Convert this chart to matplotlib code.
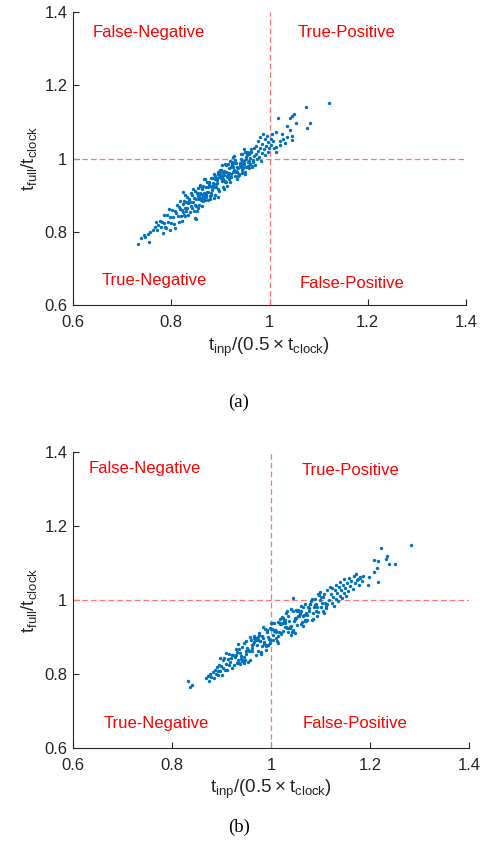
import matplotlib
matplotlib.use("Agg")
import matplotlib.pyplot as plt

plt.rcParams['font.family'] = ['Liberation Sans', 'DejaVu Sans']
plt.rcParams['mathtext.default'] = 'regular'

# (a): t_full/t_clock against t_inp/(0.5 t_clock)
x_a = [0.733, 0.739, 0.744, 0.747, 0.752, 0.755, 0.757, 0.763, 0.766, 0.769, 0.771, 0.774, 0.777, 0.779,
       0.781, 0.783, 0.785, 0.786, 0.788, 0.790, 0.792, 0.793, 0.795, 0.797, 0.798, 0.800, 0.802, 0.803,
       0.805, 0.807, 0.808, 0.810, 0.812, 0.813, 0.815, 0.817, 0.818, 0.820,
       0.821, 0.822, 0.823, 0.824, 0.825, 0.826, 0.827, 0.828, 0.829, 0.830, 0.831, 0.832, 0.833, 0.834,
       0.835, 0.836, 0.837, 0.838, 0.839, 0.840, 0.841, 0.842, 0.843, 0.844, 0.845, 0.846, 0.847, 0.848,
       0.849, 0.850, 0.851, 0.815, 0.823, 0.848, 0.896,
       0.851, 0.852, 0.853, 0.854, 0.855, 0.856, 0.857, 0.858, 0.859, 0.860, 0.861, 0.862, 0.863, 0.864,
       0.865, 0.866, 0.867, 0.868, 0.869, 0.870, 0.871, 0.872, 0.873, 0.874, 0.875, 0.876, 0.877, 0.878,
       0.879, 0.880,
       0.8515, 0.8535, 0.8555, 0.8575, 0.8595, 0.8615, 0.8635, 0.8655, 0.8675, 0.8695, 0.8715, 0.8735,
       0.8755, 0.8775, 0.8795,
       0.881, 0.882, 0.883, 0.884, 0.885, 0.886, 0.887, 0.888, 0.889, 0.890, 0.891, 0.892, 0.893, 0.894,
       0.895, 0.896, 0.897, 0.898, 0.899, 0.900, 0.901, 0.902, 0.903, 0.904, 0.905, 0.906, 0.907, 0.908,
       0.909, 0.910,
       0.8815, 0.8835, 0.8855, 0.8875, 0.8895, 0.8915, 0.8935, 0.8955, 0.8975, 0.8995, 0.9015, 0.9035,
       0.9055, 0.9075, 0.9095,
       0.911, 0.912, 0.913, 0.914, 0.915, 0.916, 0.917, 0.918, 0.919, 0.920, 0.921, 0.922, 0.923, 0.924,
       0.925, 0.926, 0.927, 0.928, 0.929, 0.930, 0.931, 0.932, 0.933, 0.934, 0.935, 0.936, 0.937, 0.938,
       0.939, 0.940,
       0.9115, 0.9135, 0.9155, 0.9175, 0.9195, 0.9215, 0.9235, 0.9255, 0.9275, 0.9295, 0.9315, 0.9335,
       0.941, 0.942, 0.943, 0.944, 0.945, 0.946, 0.947, 0.948, 0.949, 0.950, 0.951, 0.952, 0.953, 0.954,
       0.955, 0.956, 0.957, 0.958, 0.959, 0.960, 0.961, 0.962, 0.963, 0.964, 0.965, 0.966,
       0.9425, 0.9445, 0.9465, 0.9485, 0.9505, 0.9525, 0.9545, 0.9565, 0.9585, 0.9605,
       0.967, 0.968, 0.969, 0.971, 0.972, 0.973, 0.975, 0.976, 0.977, 0.979, 0.980, 0.981, 0.983, 0.984,
       0.985, 0.987, 0.988, 0.990, 0.991, 0.993, 0.994, 0.996, 0.997, 0.999,
       1.002, 1.004, 1.006, 1.008, 1.010, 1.013, 1.013, 1.014, 1.018, 1.021, 1.025, 1.028, 1.032, 1.036,
       1.041, 1.042, 1.045, 1.045, 1.046, 1.050, 1.054, 1.074, 1.076, 1.083, 1.121, 1.035, 1.022]
y_a = [0.766, 0.782, 0.790, 0.787, 0.795, 0.773, 0.799, 0.804, 0.813, 0.826, 0.806, 0.819, 0.830, 0.812,
       0.827, 0.796, 0.823, 0.847, 0.813, 0.809, 0.845, 0.826, 0.863, 0.805, 0.841, 0.823, 0.860, 0.839,
       0.821, 0.858, 0.810, 0.852, 0.874, 0.844, 0.827, 0.863, 0.884, 0.843,
       0.860, 0.829, 0.877, 0.854, 0.883, 0.846, 0.900, 0.864, 0.844, 0.880, 0.858, 0.894, 0.866, 0.878,
       0.845, 0.890, 0.887, 0.855, 0.881, 0.905, 0.870, 0.865, 0.900, 0.880, 0.916, 0.857, 0.893, 0.874,
       0.910, 0.890, 0.836, 0.868, 0.908, 0.837, 0.894,
       0.871, 0.906, 0.858, 0.899, 0.920, 0.890, 0.872, 0.907, 0.928, 0.886, 0.902, 0.871, 0.919, 0.897,
       0.926, 0.889, 0.943, 0.907, 0.887, 0.923, 0.901, 0.937, 0.909, 0.921, 0.887, 0.932, 0.929, 0.898,
       0.924, 0.948,
       0.906, 0.864, 0.901, 0.893, 0.924, 0.891, 0.916, 0.883, 0.906, 0.945, 0.895, 0.935, 0.909, 0.935,
       0.890,
       0.901, 0.914, 0.922, 0.933, 0.927, 0.893, 0.923, 0.959, 0.900, 0.952, 0.931, 0.923, 0.942, 0.948,
       0.964, 0.957, 0.912, 0.963, 0.956, 0.968, 0.953, 0.946, 0.938, 0.982, 0.960, 0.944, 0.966, 0.955,
       0.937, 0.986,
       0.907, 0.947, 0.922, 0.946, 0.944, 0.945, 0.933, 0.918, 0.949, 0.963, 0.969, 0.950, 0.921, 0.916,
       0.939,
       0.981, 0.936, 0.926, 0.953, 0.956, 0.985, 0.943, 0.973, 0.950, 0.993, 0.978, 0.957, 0.982, 0.985,
       0.976, 1.003, 0.968, 1.008, 0.952, 0.997, 0.962, 0.966, 0.962, 0.944, 0.973, 0.953, 0.955, 0.959,
       0.983, 0.989,
       0.962, 0.949, 0.961, 0.960, 0.935, 0.950, 0.990, 0.964, 0.988, 0.987, 0.988, 0.976,
       1.000, 0.977, 0.961, 0.969, 1.011, 0.985, 0.978, 0.994, 1.025, 1.018, 0.958, 0.976, 0.998, 1.010,
       1.017, 0.976, 0.979, 0.992, 1.012, 1.002, 1.019, 1.019, 1.027, 0.976, 0.979, 0.996,
       1.013, 0.992, 0.974, 0.984, 0.964, 1.003, 1.011, 0.990, 0.975, 0.984,
       0.990, 1.028, 1.006, 0.983, 1.035, 1.012, 0.998, 1.047, 1.021, 1.004, 1.058, 1.030, 0.992, 1.016,
       1.041, 1.068, 1.025, 1.009, 1.052, 1.035, 1.061, 1.018, 1.044, 1.028,
       1.052, 1.038, 1.066, 1.047, 1.029, 1.032, 1.017, 1.072, 1.110, 1.037, 1.066, 1.052, 1.043, 1.090,
       1.078, 1.110, 1.062, 1.050, 1.117, 1.121, 1.098, 1.141, 1.084, 1.098, 1.151, 1.058, 1.048]

# (b): same circuits, different input normalisation
x_b = [0.833, 0.837, 0.840, 0.869, 0.872, 0.874, 0.877, 0.879, 0.882, 0.884, 0.886, 0.889, 0.890, 0.892,
       0.894, 0.895, 0.897, 0.898, 0.900, 0.901, 0.903, 0.904, 0.906, 0.907, 0.909, 0.910, 0.912, 0.913,
       0.915, 0.916, 0.918, 0.919, 0.921, 0.922, 0.924, 0.925, 0.927, 0.929,
       0.930, 0.931, 0.933, 0.934, 0.935, 0.937, 0.938, 0.939, 0.941, 0.942, 0.943, 0.945, 0.946, 0.947,
       0.949, 0.950, 0.951, 0.953, 0.954, 0.955, 0.957, 0.958, 0.959, 0.961, 0.962, 0.963, 0.965, 0.966,
       0.967, 0.969,
       0.9305, 0.9345, 0.9385, 0.9425, 0.9465, 0.9505, 0.9545, 0.9585, 0.9625, 0.9665,
       0.970, 0.971, 0.973, 0.974, 0.975, 0.976, 0.978, 0.979, 0.980, 0.981, 0.983, 0.984, 0.985, 0.986,
       0.988, 0.989, 0.990, 0.991, 0.993, 0.994, 0.995, 0.996, 0.998, 0.999, 1.000, 1.001, 1.003, 1.004,
       1.005, 1.006, 1.008, 1.009, 1.010, 1.011, 1.013, 1.014, 1.015, 1.016, 1.018, 1.019,
       0.9705, 0.9745, 0.9785, 0.9825, 0.9865, 0.9905, 0.9945, 0.9985, 1.0025, 1.0065, 1.0105, 1.0145,
       1.0185,
       1.020, 1.021, 1.023, 1.024, 1.025, 1.026, 1.028, 1.029, 1.030, 1.031, 1.033, 1.034, 1.035, 1.036,
       1.038, 1.039, 1.040, 1.041, 1.043, 1.044, 1.045, 1.046, 1.048, 1.049, 1.050, 1.051, 1.053, 1.054,
       1.055, 1.056, 1.058, 1.059, 1.060, 1.061, 1.063, 1.064, 1.065, 1.066, 1.068, 1.069,
       1.0205, 1.0245, 1.0285, 1.0325, 1.0365, 1.0405, 1.0445, 1.0485, 1.0525, 1.0565, 1.0605, 1.0645,
       1.0685, 1.044,
       1.070, 1.072, 1.073, 1.075, 1.076, 1.078, 1.079, 1.081, 1.082, 1.084, 1.085, 1.087, 1.088, 1.090,
       1.091, 1.093, 1.094, 1.096, 1.097, 1.099, 1.100, 1.102, 1.103, 1.105, 1.106, 1.108, 1.109, 1.111,
       1.112, 1.114,
       1.071, 1.077, 1.083, 1.089, 1.095, 1.101, 1.107, 1.113, 1.117, 1.119,
       1.121, 1.123, 1.124, 1.126, 1.127, 1.129, 1.131, 1.132, 1.134, 1.135, 1.137, 1.139, 1.140, 1.142,
       1.143, 1.145, 1.147, 1.148, 1.150, 1.152, 1.154, 1.156, 1.158, 1.160, 1.162, 1.165, 1.167, 1.170,
       1.172, 1.174, 1.177, 1.180, 1.183, 1.186,
       1.283, 1.222, 1.234, 1.232, 1.209, 1.217, 1.214, 1.239, 1.251, 1.209, 1.216, 1.198, 1.180, 1.175,
       1.197]
y_b = [0.781, 0.766, 0.771, 0.788, 0.795, 0.781, 0.800, 0.792, 0.806, 0.789, 0.812, 0.801, 0.820, 0.808,
       0.796, 0.824, 0.842, 0.808, 0.822, 0.797, 0.837, 0.817, 0.842, 0.812, 0.857, 0.828, 0.812, 0.841,
       0.825, 0.854, 0.832, 0.842, 0.816, 0.852, 0.850, 0.824, 0.846, 0.867,
       0.850, 0.831, 0.881, 0.837, 0.831, 0.858, 0.828, 0.840, 0.872, 0.839, 0.835, 0.883, 0.831, 0.839,
       0.853, 0.861, 0.871, 0.866, 0.832, 0.862, 0.899, 0.839, 0.891, 0.871, 0.863, 0.881, 0.887, 0.903,
       0.895, 0.852,
       0.859, 0.868, 0.848, 0.834, 0.845, 0.889, 0.865, 0.861, 0.879, 0.896,
       0.892, 0.878, 0.863, 0.893, 0.905, 0.910, 0.890, 0.860, 0.854, 0.876, 0.927, 0.898, 0.883, 0.881,
       0.921, 0.866, 0.875, 0.913, 0.918, 0.901, 0.877, 0.895, 0.893, 0.883, 0.938, 0.921, 0.938, 0.891,
       0.905, 0.937, 0.920, 0.919, 0.916, 0.913, 0.888, 0.902, 0.941, 0.914, 0.937, 0.934,
       0.896, 0.900, 0.888, 0.902, 0.887, 0.878, 0.879, 0.925, 0.922, 0.915, 0.897, 0.883, 0.948,
       0.934, 0.911, 0.955, 0.938, 0.917, 0.942, 0.946, 0.937, 0.964, 0.926, 0.969, 0.913, 0.958, 0.923,
       0.927, 0.923, 0.904, 0.931, 0.914, 0.915, 0.919, 0.943, 0.950, 0.948, 0.950, 0.973, 0.969, 0.957,
       0.973, 0.969, 0.962, 0.965, 0.934, 0.984, 0.940, 0.929, 0.956, 0.959, 0.989, 0.947,
       0.907, 0.952, 0.928, 0.924, 0.942, 0.975, 0.970, 0.912, 0.933, 0.957, 0.971, 0.981, 0.942, 1.004,
       0.944, 0.947, 0.960, 0.981, 0.971, 0.988, 0.988, 0.997, 0.945, 0.948, 0.965, 0.981, 0.987, 0.990,
       0.969, 0.980, 0.958, 1.017, 1.013, 1.022, 1.000, 0.982, 0.991, 0.970, 1.008, 1.016, 0.993, 0.977,
       0.985, 1.028,
       0.964, 0.977, 1.003, 1.002, 0.967, 1.007, 0.966, 0.989, 1.001, 1.036,
       1.015, 0.992, 1.032, 1.008, 0.985, 1.026, 1.041, 1.003, 1.019, 0.996, 1.035, 1.012, 1.049, 1.027,
       1.004, 1.041, 1.018, 1.056, 1.033, 1.011, 1.046, 1.024, 1.060, 1.038, 1.052, 1.030, 1.064, 1.045,
       1.069, 1.055, 1.040, 1.062, 1.050, 1.066,
       1.149, 1.141, 1.120, 1.111, 1.108, 1.105, 1.087, 1.096, 1.096, 1.075, 1.048, 1.063, 1.060, 1.058,
       1.040]

ticks = [0.6, 0.8, 1.0, 1.2, 1.4]
tick_labels = ['0.6', '0.8', '1', '1.2', '1.4']
threshold = 1.0

# quadrant names with their anchor (left edge, vertical centre) per panel
quad_names = ['False-Negative', 'True-Positive', 'True-Negative', 'False-Positive']
quad_pos_a = [(0.641, 1.345), (1.058, 1.345), (0.659, 0.668), (1.062, 0.660)]
quad_pos_b = [(0.632, 1.354), (1.062, 1.349), (0.662, 0.665), (1.064, 0.665)]

fig = plt.figure(figsize=(4.8, 8.41), dpi=100)
ax1 = fig.add_axes([0.152, 0.6373, 0.819, 0.3484])
ax2 = fig.add_axes([0.152, 0.1106, 0.825, 0.352])


def draw_panel(ax, xs, ys, positions):
    ax.scatter(xs, ys, s=6, marker='o', color='#0072BD', linewidths=0, zorder=3)
    ax.axvline(threshold, color='#ff7575', lw=0.9, dashes=(4.5, 2.5), zorder=2)
    ax.axhline(threshold, color='#ff7575', lw=0.9, dashes=(4.5, 2.5), zorder=2)
    for name, (tx, ty) in zip(quad_names, positions):
        ax.text(tx, ty, name, color='#ff0000', fontsize=12, ha='left', va='center')
    ax.set_xlim(0.6, 1.4)
    ax.set_ylim(0.6, 1.4)
    ax.set_xticks(ticks)
    ax.set_xticklabels(tick_labels)
    ax.set_yticks(ticks)
    ax.set_yticklabels(tick_labels)
    ax.tick_params(direction='in', length=4, width=0.8, colors='#262626', labelsize=12)
    ax.tick_params(axis='x', pad=7)
    ax.tick_params(axis='y', pad=4)
    for side in ['top', 'right']:
        ax.spines[side].set_visible(False)
    for side in ['left', 'bottom']:
        ax.spines[side].set_color('#262626')
        ax.spines[side].set_linewidth(0.8)
    ax.set_xlabel(r'$t_{inp}/(0.5\times t_{clock})$', fontsize=13.5, color='#262626', labelpad=4)
    ax.set_ylabel(r'$t_{full}/t_{clock}$', fontsize=13.5, color='#262626', labelpad=4)


draw_panel(ax1, x_a, y_a, quad_pos_a)
draw_panel(ax2, x_b, y_b, quad_pos_b)

fig.text(0.498, 0.522, '(a)', family='Liberation Serif', fontsize=13.5, ha='center', va='center')
fig.text(0.498, 0.0166, '(b)', family='Liberation Serif', fontsize=13.5, ha='center', va='center')

fig.savefig('out.png', dpi=100)
